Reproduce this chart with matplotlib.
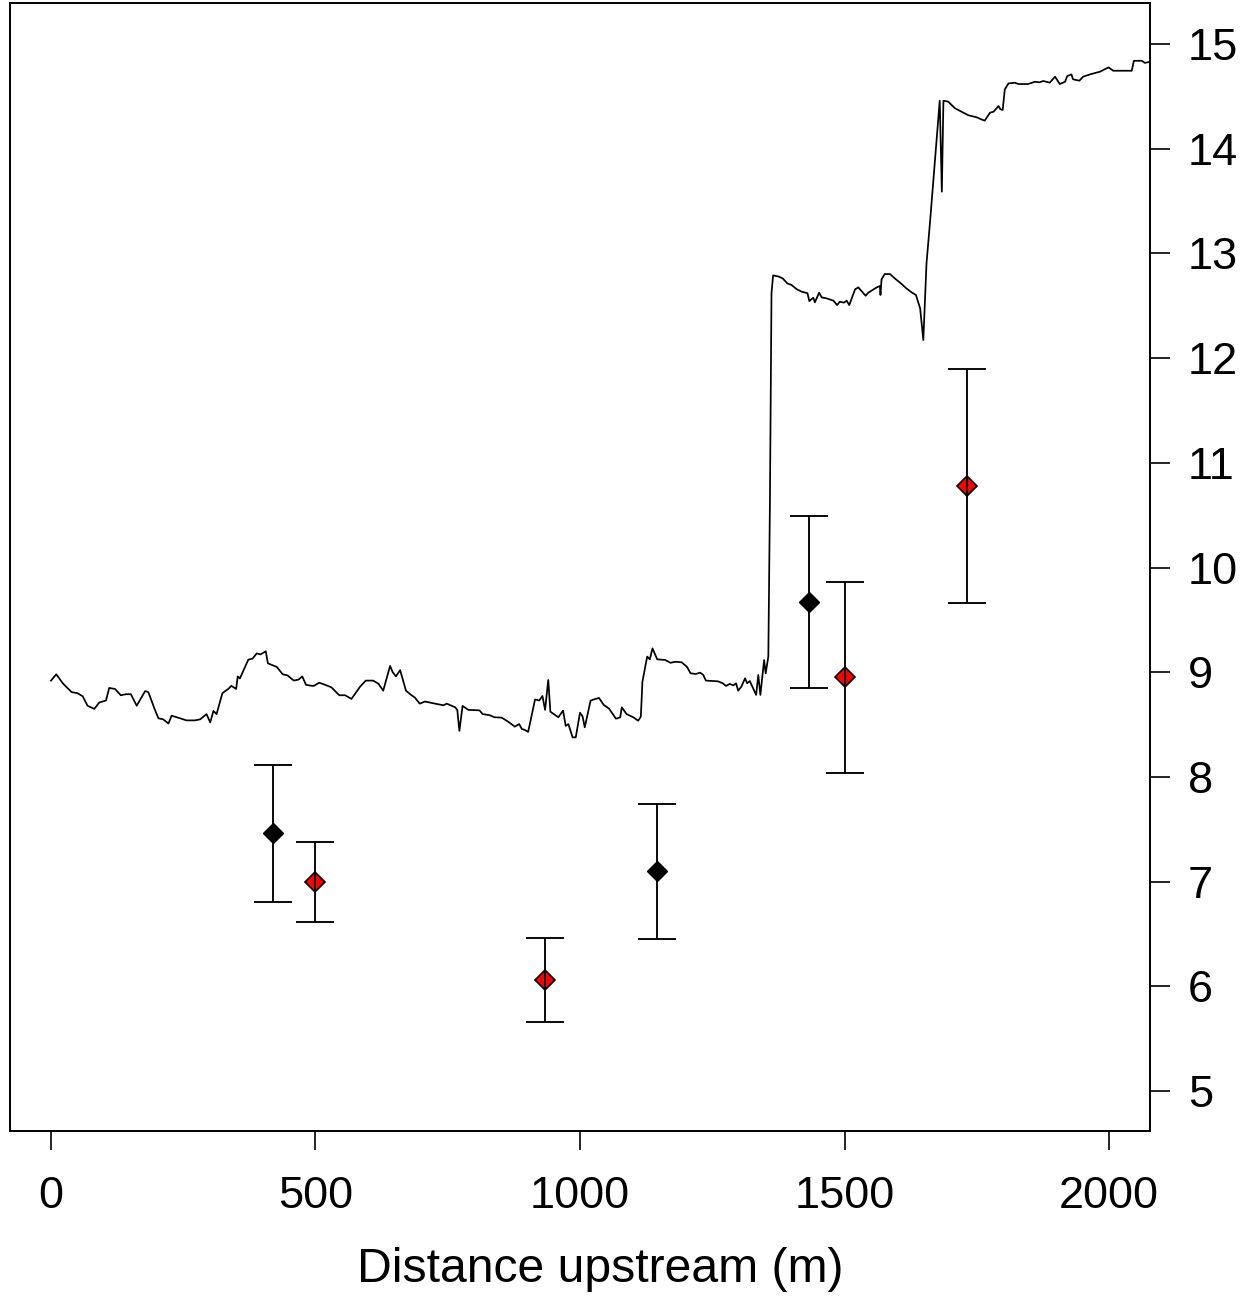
import matplotlib
matplotlib.use("Agg")
import matplotlib.pyplot as plt
from matplotlib.transforms import Bbox, TransformedBbox

plt.rcParams['font.family'] = ['Liberation Sans', 'DejaVu Sans']

# ---- longitudinal profile (line) ----
profile_x = [0, 10, 23, 39, 50, 60, 69, 82, 91, 104, 110, 121, 132, 142, 151, 162, 178, 184,
             195, 203, 212, 222, 228, 244, 256, 272, 282, 294, 301, 307, 313, 324, 335, 341,
             350, 353, 357, 373, 381, 389, 396, 406, 410, 427, 438, 447, 459, 468, 475, 482,
             493, 497, 507, 518, 530, 545, 556, 568, 584, 595, 609, 619, 628, 641, 646, 652,
             660, 671, 679, 688, 697, 707, 723, 742, 748, 764, 768, 772, 778, 789, 810, 816,
             829, 838, 852, 864, 877, 885, 890, 896, 902, 915, 923, 929, 934, 940, 944, 959,
             968, 973, 978, 986, 992, 1000, 1005, 1009, 1020, 1026, 1036, 1045, 1055, 1068,
             1076, 1079, 1088, 1101, 1110, 1115, 1118, 1127, 1132, 1137, 1146, 1161, 1171,
             1180, 1192, 1202, 1209, 1219, 1227, 1233, 1238, 1261, 1270, 1276, 1283, 1290,
             1295, 1299, 1305, 1312, 1316, 1321, 1333, 1337, 1341, 1348, 1351, 1356, 1359,
             1362, 1365, 1375, 1383, 1392, 1400, 1410, 1419, 1430, 1433.5, 1441, 1444, 1452,
             1457, 1466, 1479, 1486, 1491, 1499, 1504, 1509, 1520, 1526, 1535, 1540, 1545,
             1561, 1567, 1568, 1570, 1576, 1586, 1595, 1608, 1617, 1627, 1635, 1643, 1649,
             1655, 1662, 1680, 1684, 1687, 1696, 1709, 1721, 1734, 1750, 1759, 1765, 1775,
             1782, 1791, 1795, 1799, 1803, 1810, 1822, 1829, 1847, 1860, 1868, 1876, 1888,
             1898, 1907, 1917, 1921, 1929, 1932, 1944, 1951, 1964, 1983, 1999, 2008, 2043,
             2047, 2062, 2068, 2077]
profile_y = [8.92, 8.98, 8.89, 8.81, 8.80, 8.77, 8.68, 8.65, 8.71, 8.73, 8.85, 8.84, 8.78, 8.79,
             8.79, 8.68, 8.82, 8.81, 8.66, 8.56, 8.55, 8.51, 8.585, 8.56, 8.54, 8.54, 8.55, 8.60,
             8.52, 8.63, 8.60, 8.80, 8.84, 8.87, 8.84, 8.96, 8.94, 9.12, 9.13, 9.18, 9.17, 9.20,
             9.085, 9.05, 8.98, 8.97, 8.92, 8.93, 8.96, 8.88, 8.87, 8.87, 8.90, 8.88, 8.856,
             8.78, 8.78, 8.745, 8.86, 8.92, 8.92, 8.89, 8.824, 9.06, 9.00, 8.96, 9.02, 8.824,
             8.79, 8.757, 8.70, 8.72, 8.703, 8.684, 8.70, 8.665, 8.64, 8.44, 8.678, 8.64, 8.636,
             8.60, 8.59, 8.57, 8.566, 8.528, 8.48, 8.505, 8.458, 8.448, 8.43, 8.74, 8.73, 8.773,
             8.64, 8.926, 8.623, 8.57, 8.633, 8.487, 8.505, 8.378, 8.378, 8.614, 8.576, 8.474,
             8.728, 8.74, 8.754, 8.687, 8.652, 8.556, 8.569, 8.665, 8.60, 8.569, 8.537, 8.576,
             8.91, 9.149, 9.123, 9.228, 9.123, 9.117, 9.09, 9.10, 9.095, 9.053, 8.99, 8.983,
             8.996, 8.974, 8.92, 8.913, 8.894, 8.869, 8.888, 8.875, 8.894, 8.824, 8.862, 8.942,
             8.894, 8.916, 8.783, 8.974, 8.783, 9.117, 8.99, 9.149, 10.61, 12.62, 12.79, 12.78,
             12.762, 12.714, 12.698, 12.657, 12.635, 12.62, 12.545, 12.577, 12.533, 12.625,
             12.58, 12.571, 12.549, 12.507, 12.539, 12.53, 12.549, 12.507, 12.657, 12.676,
             12.625, 12.596, 12.625, 12.676, 12.689, 12.603, 12.752, 12.803, 12.803, 12.762,
             12.708, 12.666, 12.628, 12.603, 12.475, 12.172, 12.905, 13.319, 14.459, 13.59,
             14.459, 14.45, 14.386, 14.354, 14.32, 14.30, 14.28, 14.268, 14.344, 14.354, 14.408,
             14.376, 14.37, 14.567, 14.624, 14.63, 14.618, 14.618, 14.64, 14.634, 14.647,
             14.631, 14.688, 14.618, 14.64, 14.694, 14.71, 14.663, 14.65, 14.688, 14.71,
             14.736, 14.777, 14.745, 14.745, 14.84, 14.84, 14.82, 14.83]

# ---- sample means with error bars ----
black_x = [420, 1146, 1433]
black_y = [7.46, 7.10, 9.67]
black_err = [0.65, 0.645, 0.82]

red_x = [500, 934, 1500, 1732]
red_y = [7.00, 6.06, 8.95, 10.78]
red_err = [0.383, 0.40, 0.91, 1.115]

x_ticks = [0, 500, 1000, 1500, 2000]
y_ticks = [5, 6, 7, 8, 9, 10, 11, 12, 13, 14, 15]
x_label = "Distance upstream (m)"

W, H = 1247, 1299
fig = plt.figure(figsize=(W / 100, H / 100), dpi=100)
ax = fig.add_axes([10 / W, 1 - 1131 / H, 1140 / W, 1128 / H])

ax.plot(profile_x, profile_y, color='black', lw=1.25, zorder=2)
ax.plot(black_x, black_y, linestyle='none', marker='D', color='black', ms=9.8, zorder=3)
ax.plot(red_x, red_y, linestyle='none', marker='D', mfc='red', mec='black', mew=1.2,
        ms=9.8, zorder=3)
ax.errorbar(black_x, black_y, yerr=black_err, fmt='none', ecolor='black',
            elinewidth=1.35, capsize=14, capthick=1.35, zorder=4)
ax.errorbar(red_x, red_y, yerr=red_err, fmt='none', ecolor='black',
            elinewidth=1.35, capsize=14, capthick=1.35, zorder=4)

ax.set_xlim(-77.5, 2077.5)
ax.set_ylim(4.618, 15.392)
ax.set_xticks(x_ticks)
ax.set_yticks(y_ticks)
ax.yaxis.tick_right()
ax.tick_params(axis='x', direction='out', length=13.7, width=1.2, labelsize=32.5, pad=19)
ax.tick_params(axis='y', direction='out', length=14.4, width=1.2, labelsize=32.5, pad=13,
               left=False, right=True)
for s in ax.spines.values():
    s.set_linewidth(1.4)

fig.text(600 / W, 1 - 1282 / H, x_label, ha='center', va='baseline', fontsize=34.7)

clip = TransformedBbox(Bbox([[0, 1 - 1208 / H], [1, 1]]), fig.transFigure)
for t in ax.xaxis.get_major_ticks():
    t.label1.set_clip_box(clip)
    t.label1.set_clip_on(True)

fig.savefig('out.png', dpi=100)
